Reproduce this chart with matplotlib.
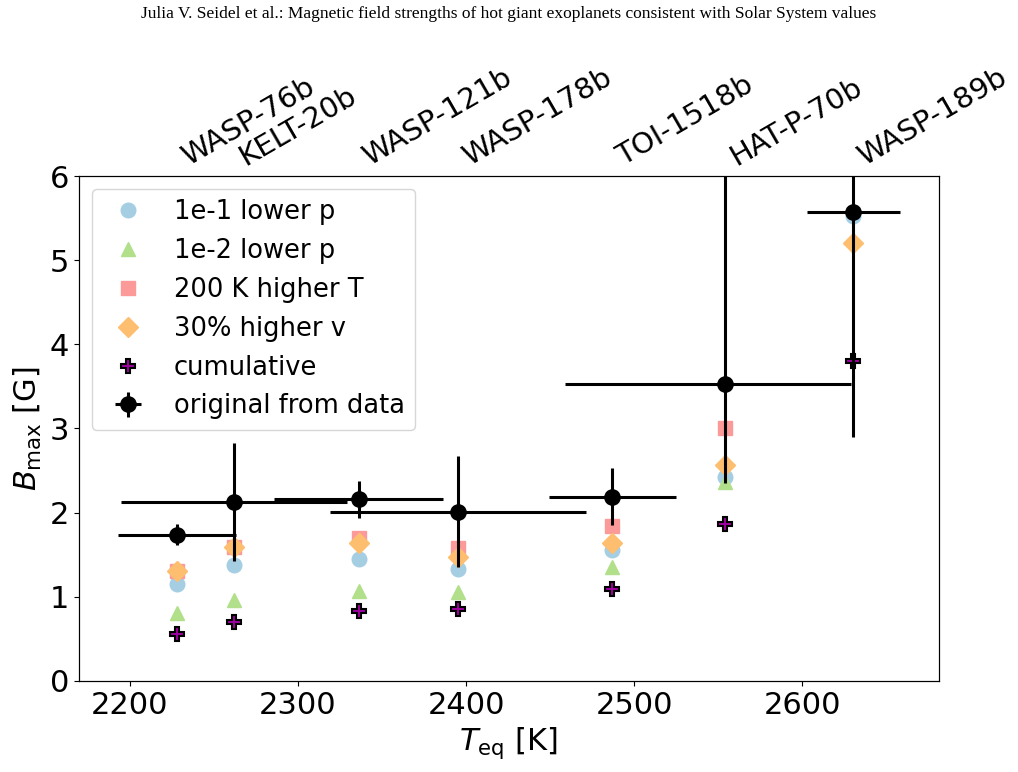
import numpy as np
import matplotlib
matplotlib.use("Agg")
import matplotlib.pyplot as plt

planets = ["WASP-76b", "KELT-20b", "WASP-121b", "WASP-178b", "TOI-1518b", "HAT-P-70b", "WASP-189b"]
teq = [2228, 2262, 2336, 2395, 2487, 2554, 2630]
teq_err_lo = [35, 67, 50, 76, 38, 95, 27]
teq_err_hi = [35, 67, 50, 76, 38, 75, 28]
bmax = [1.74, 2.13, 2.16, 2.01, 2.19, 3.53, 5.57]
bmax_err_lo = [0.13, 0.70, 0.22, 0.66, 0.34, 1.18, 2.67]
bmax_err_hi = [0.13, 0.70, 0.22, 0.66, 0.34, 3.00, 2.67]

b_p1 = [1.15, 1.38, 1.45, 1.33, 1.56, 2.42, 5.53]
b_p2 = [0.81, 0.96, 1.07, 1.06, 1.36, 2.37, np.nan]
b_T200 = [1.31, 1.59, 1.70, 1.58, 1.84, 3.00, np.nan]
b_v30 = [1.31, 1.59, 1.64, 1.47, 1.64, 2.57, 5.21]
b_cum = [0.56, 0.70, 0.835, 0.855, 1.09, 1.87, 3.80]

fig = plt.figure(figsize=(10.18, 7.72), dpi=100)
ax = fig.add_axes([79 / 1018, 0.1179, 860 / 1018, 0.6541])

fig.text(0.5, 1 - 14 / 772,
         "Julia V. Seidel et al.: Magnetic field strengths of hot giant exoplanets consistent with Solar System values",
         ha="center", va="center", family="Liberation Serif", fontsize=12.5)

ax.plot(teq, b_p1, "o", color="#a6cee3", ms=10.5, ls="none", label="1e-1 lower p")
ax.plot(teq, b_p2, "^", color="#b2df8a", ms=10, ls="none", label="1e-2 lower p")
ax.plot(teq, b_T200, "s", color="#fb9a99", ms=10, ls="none", label="200 K higher T")
ax.plot(teq, b_v30, "D", color="#fdbf6f", ms=10, ls="none", label="30% higher v")
ax.plot(teq, b_cum, "P", color="#a000a0", mec="black", mew=1.5, ms=10, ls="none", label="cumulative")
ax.errorbar(teq, bmax, xerr=[teq_err_lo, teq_err_hi], yerr=[bmax_err_lo, bmax_err_hi], fmt="o",
            color="black", ms=11, elinewidth=2.2, capsize=0, label="original from data")

ax.set_ylim(0, 6)
ax.set_xlabel(r"$T_{\rm eq}$ [K]", fontsize=22)
ax.set_ylabel(r"$B_{\rm max}$ [G]", fontsize=22)
ax.tick_params(labelsize=22)
ax.set_xticks([2200, 2300, 2400, 2500, 2600])

ax2 = ax.twiny()
ax2.set_xlim(ax.get_xlim())
ax2.set_xticks(teq)
ax2.set_xticklabels(planets, rotation=30, ha="left", fontsize=21)
ax2.tick_params(axis="x", length=0)

ax.legend(loc="upper left", fontsize=18.5)

fig.savefig("out.png", dpi=100)
